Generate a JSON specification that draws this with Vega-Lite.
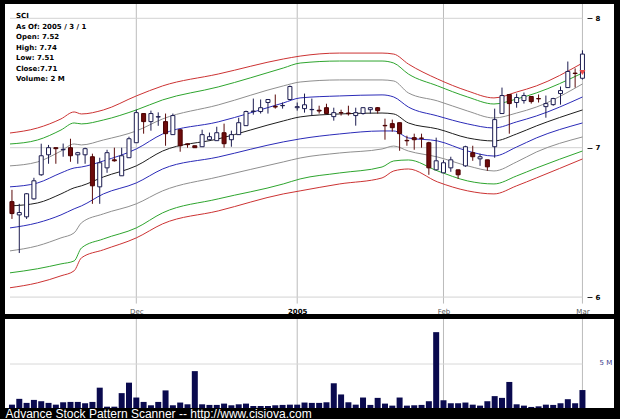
{
  "$schema": "https://vega.github.io/schema/vega-lite/v6.json",
  "background": "black",
  "padding": {"left": 5, "top": 3, "right": 6, "bottom": 0},
  "bounds": "flush",
  "spacing": 5,
  "config": {
    "view": {"fill": "white", "stroke": null},
    "axis": {"grid": false, "domain": false, "ticks": false, "labelFont": "DejaVu Sans", "labelFontSize": 7}
  },
  "datasets": {
    "ohlc": [
      {"i":0,"d":"2004-11-05","o":6.621,"h":6.702,"l":6.504,"c":6.540,"v":0.38},
      {"i":1,"d":"2004-11-08","o":6.531,"h":6.606,"l":6.279,"c":6.547,"v":1.04},
      {"i":2,"d":"2004-11-09","o":6.518,"h":6.680,"l":6.504,"c":6.675,"v":0.58},
      {"i":3,"d":"2004-11-10","o":6.640,"h":6.786,"l":6.635,"c":6.765,"v":0.92},
      {"i":4,"d":"2004-11-11","o":6.807,"h":7.029,"l":6.800,"c":6.942,"v":0.77},
      {"i":5,"d":"2004-11-12","o":6.949,"h":7.020,"l":6.885,"c":7.000,"v":0.58},
      {"i":6,"d":"2004-11-15","o":7.000,"h":7.000,"l":6.885,"c":6.993,"v":0.38},
      {"i":7,"d":"2004-11-16","o":6.985,"h":7.030,"l":6.935,"c":6.988,"v":0.65},
      {"i":8,"d":"2004-11-17","o":7.000,"h":7.065,"l":6.899,"c":6.942,"v":0.69},
      {"i":9,"d":"2004-11-18","o":6.949,"h":6.970,"l":6.885,"c":6.964,"v":0.69},
      {"i":10,"d":"2004-11-19","o":6.949,"h":7.000,"l":6.885,"c":6.993,"v":0.54},
      {"i":11,"d":"2004-11-22","o":6.935,"h":6.957,"l":6.606,"c":6.730,"v":0.69},
      {"i":12,"d":"2004-11-23","o":6.723,"h":6.928,"l":6.606,"c":6.892,"v":2.31},
      {"i":13,"d":"2004-11-24","o":6.856,"h":6.985,"l":6.821,"c":6.964,"v":0.15},
      {"i":14,"d":"2004-11-26","o":6.913,"h":7.000,"l":6.900,"c":6.906,"v":0.15},
      {"i":15,"d":"2004-11-29","o":6.800,"h":7.000,"l":6.800,"c":6.942,"v":1.69},
      {"i":16,"d":"2004-11-30","o":6.928,"h":7.080,"l":6.928,"c":7.065,"v":2.88},
      {"i":17,"d":"2004-12-01","o":7.036,"h":7.281,"l":7.036,"c":7.258,"v":1.19},
      {"i":18,"d":"2004-12-02","o":7.251,"h":7.251,"l":7.102,"c":7.191,"v":0.69},
      {"i":19,"d":"2004-12-03","o":7.191,"h":7.273,"l":7.124,"c":7.251,"v":0.31},
      {"i":20,"d":"2004-12-06","o":7.225,"h":7.260,"l":7.160,"c":7.228,"v":0.69},
      {"i":21,"d":"2004-12-07","o":7.191,"h":7.251,"l":7.014,"c":7.102,"v":2.00},
      {"i":22,"d":"2004-12-08","o":7.095,"h":7.251,"l":7.095,"c":7.236,"v":0.31},
      {"i":23,"d":"2004-12-09","o":7.131,"h":7.131,"l":6.971,"c":7.014,"v":0.62},
      {"i":24,"d":"2004-12-10","o":7.028,"h":7.030,"l":7.000,"c":7.022,"v":0.42},
      {"i":25,"d":"2004-12-13","o":7.014,"h":7.014,"l":7.000,"c":7.000,"v":4.19},
      {"i":26,"d":"2004-12-14","o":7.007,"h":7.131,"l":7.007,"c":7.095,"v":0.42},
      {"i":27,"d":"2004-12-15","o":7.058,"h":7.110,"l":7.058,"c":7.080,"v":0.35},
      {"i":28,"d":"2004-12-16","o":7.051,"h":7.153,"l":7.051,"c":7.109,"v":0.35},
      {"i":29,"d":"2004-12-17","o":7.109,"h":7.176,"l":7.000,"c":7.029,"v":0.50},
      {"i":30,"d":"2004-12-20","o":7.058,"h":7.124,"l":7.007,"c":7.095,"v":0.31},
      {"i":31,"d":"2004-12-21","o":7.095,"h":7.220,"l":7.095,"c":7.183,"v":0.42},
      {"i":32,"d":"2004-12-22","o":7.161,"h":7.273,"l":7.161,"c":7.266,"v":0.50},
      {"i":33,"d":"2004-12-23","o":7.266,"h":7.364,"l":7.243,"c":7.270,"v":0.23},
      {"i":34,"d":"2004-12-27","o":7.266,"h":7.357,"l":7.251,"c":7.295,"v":0.23},
      {"i":35,"d":"2004-12-28","o":7.334,"h":7.360,"l":7.251,"c":7.357,"v":0.23},
      {"i":36,"d":"2004-12-29","o":7.305,"h":7.395,"l":7.288,"c":7.300,"v":0.31},
      {"i":37,"d":"2004-12-30","o":7.310,"h":7.334,"l":7.288,"c":7.312,"v":0.35},
      {"i":38,"d":"2004-12-31","o":7.357,"h":7.464,"l":7.357,"c":7.456,"v":0.38},
      {"i":39,"d":"2005-01-03","o":7.295,"h":7.334,"l":7.273,"c":7.303,"v":0.38},
      {"i":40,"d":"2005-01-04","o":7.288,"h":7.402,"l":7.258,"c":7.317,"v":0.62},
      {"i":41,"d":"2005-01-05","o":7.280,"h":7.364,"l":7.236,"c":7.282,"v":0.58},
      {"i":42,"d":"2005-01-06","o":7.276,"h":7.310,"l":7.251,"c":7.270,"v":0.58},
      {"i":43,"d":"2005-01-07","o":7.295,"h":7.325,"l":7.251,"c":7.251,"v":0.65},
      {"i":44,"d":"2005-01-10","o":7.228,"h":7.295,"l":7.198,"c":7.258,"v":2.81},
      {"i":45,"d":"2005-01-11","o":7.258,"h":7.280,"l":7.236,"c":7.256,"v":1.54},
      {"i":46,"d":"2005-01-12","o":7.255,"h":7.310,"l":7.236,"c":7.250,"v":0.65},
      {"i":47,"d":"2005-01-13","o":7.236,"h":7.295,"l":7.161,"c":7.258,"v":0.38},
      {"i":48,"d":"2005-01-14","o":7.251,"h":7.300,"l":7.243,"c":7.295,"v":1.19},
      {"i":49,"d":"2005-01-18","o":7.280,"h":7.300,"l":7.251,"c":7.295,"v":0.35},
      {"i":50,"d":"2005-01-19","o":7.295,"h":7.300,"l":7.251,"c":7.273,"v":1.15},
      {"i":51,"d":"2005-01-20","o":7.163,"h":7.213,"l":7.058,"c":7.160,"v":0.50},
      {"i":52,"d":"2005-01-21","o":7.176,"h":7.206,"l":7.117,"c":7.146,"v":0.27},
      {"i":53,"d":"2005-01-24","o":7.183,"h":7.183,"l":6.978,"c":7.102,"v":1.19},
      {"i":54,"d":"2005-01-25","o":7.053,"h":7.087,"l":7.014,"c":7.050,"v":0.27},
      {"i":55,"d":"2005-01-26","o":7.073,"h":7.102,"l":6.985,"c":7.058,"v":0.31},
      {"i":56,"d":"2005-01-27","o":7.070,"h":7.102,"l":7.000,"c":7.068,"v":0.35},
      {"i":57,"d":"2005-01-28","o":7.036,"h":7.043,"l":6.807,"c":6.856,"v":0.77},
      {"i":58,"d":"2005-01-31","o":6.842,"h":7.073,"l":6.842,"c":6.906,"v":8.62},
      {"i":59,"d":"2005-02-01","o":6.821,"h":6.910,"l":6.821,"c":6.892,"v":0.88},
      {"i":60,"d":"2005-02-02","o":6.856,"h":6.935,"l":6.828,"c":6.913,"v":0.54},
      {"i":61,"d":"2005-02-03","o":6.842,"h":6.842,"l":6.779,"c":6.807,"v":0.54},
      {"i":62,"d":"2005-02-04","o":6.870,"h":7.014,"l":6.863,"c":7.007,"v":0.62},
      {"i":63,"d":"2005-02-07","o":6.964,"h":7.014,"l":6.906,"c":6.935,"v":0.38},
      {"i":64,"d":"2005-02-08","o":6.920,"h":6.957,"l":6.870,"c":6.935,"v":0.27},
      {"i":65,"d":"2005-02-09","o":6.913,"h":6.913,"l":6.835,"c":6.863,"v":0.77},
      {"i":66,"d":"2005-02-10","o":7.007,"h":7.288,"l":6.928,"c":7.206,"v":1.35},
      {"i":67,"d":"2005-02-11","o":7.251,"h":7.448,"l":7.251,"c":7.387,"v":1.15},
      {"i":68,"d":"2005-02-14","o":7.395,"h":7.395,"l":7.102,"c":7.326,"v":2.96},
      {"i":69,"d":"2005-02-15","o":7.334,"h":7.402,"l":7.295,"c":7.372,"v":0.42},
      {"i":70,"d":"2005-02-16","o":7.349,"h":7.410,"l":7.326,"c":7.387,"v":0.27},
      {"i":71,"d":"2005-02-17","o":7.380,"h":7.380,"l":7.326,"c":7.341,"v":0.12},
      {"i":72,"d":"2005-02-18","o":7.364,"h":7.395,"l":7.334,"c":7.362,"v":0.19},
      {"i":73,"d":"2005-02-22","o":7.303,"h":7.387,"l":7.220,"c":7.326,"v":0.38},
      {"i":74,"d":"2005-02-23","o":7.318,"h":7.370,"l":7.310,"c":7.364,"v":0.35},
      {"i":75,"d":"2005-02-24","o":7.402,"h":7.456,"l":7.318,"c":7.425,"v":0.54},
      {"i":76,"d":"2005-02-25","o":7.448,"h":7.651,"l":7.448,"c":7.573,"v":1.00},
      {"i":77,"d":"2005-02-28","o":7.560,"h":7.597,"l":7.448,"c":7.557,"v":0.54},
      {"i":78,"d":"2005-03-01","o":7.52,"h":7.74,"l":7.51,"c":7.71,"v":2.04}
    ],
    "bands": [
      {"i":-0.27,"r1":7.107,"g1":7.027,"y1":6.870,"b1":6.723,"m":6.592,"b2":6.444,"y2":6.293,"g2":6.152,"r2":6.058},
      {"i":3.5,"r1":7.144,"g1":7.056,"y1":6.898,"b1":6.750,"m":6.612,"b2":6.478,"y2":6.326,"g2":6.178,"r2":6.089},
      {"i":6.7,"r1":7.211,"g1":7.129,"y1":6.976,"b1":6.820,"m":6.674,"b2":6.531,"y2":6.378,"g2":6.209,"r2":6.133},
      {"i":8.5,"r1":7.263,"g1":7.181,"y1":7.027,"b1":6.855,"m":6.716,"b2":6.572,"y2":6.411,"g2":6.228,"r2":6.165},
      {"i":9.5,"r1":7.248,"g1":7.174,"y1":7.020,"b1":6.862,"m":6.730,"b2":6.592,"y2":6.478,"g2":6.312,"r2":6.248},
      {"i":12.5,"r1":7.278,"g1":7.203,"y1":7.056,"b1":6.905,"m":6.792,"b2":6.674,"y2":6.538,"g2":6.371,"r2":6.300},
      {"i":17,"r1":7.384,"g1":7.278,"y1":7.122,"b1":6.991,"m":6.870,"b2":6.750,"y2":6.606,"g2":6.444,"r2":6.378},
      {"i":20.6,"r1":7.461,"g1":7.354,"y1":7.211,"b1":7.100,"m":6.976,"b2":6.848,"y2":6.695,"g2":6.545,"r2":6.471},
      {"i":28.2,"r1":7.553,"g1":7.453,"y1":7.316,"b1":7.189,"m":7.064,"b2":6.933,"y2":6.792,"g2":6.640,"r2":6.558},
      {"i":37.1,"r1":7.671,"g1":7.600,"y1":7.461,"b1":7.331,"m":7.196,"b2":7.042,"y2":6.898,"g2":6.743,"r2":6.674},
      {"i":39.4,"r1":7.694,"g1":7.639,"y1":7.491,"b1":7.369,"m":7.226,"b2":7.064,"y2":6.926,"g2":6.778,"r2":6.695},
      {"i":44.8,"r1":7.718,"g1":7.655,"y1":7.507,"b1":7.384,"m":7.248,"b2":7.100,"y2":6.962,"g2":6.820,"r2":6.743},
      {"i":50.6,"r1":7.718,"g1":7.655,"y1":7.507,"b1":7.392,"m":7.255,"b2":7.122,"y2":6.991,"g2":6.862,"r2":6.785},
      {"i":52.2,"r1":7.710,"g1":7.639,"y1":7.499,"b1":7.376,"m":7.248,"b2":7.122,"y2":7.012,"g2":6.905,"r2":6.834},
      {"i":54.2,"r1":7.631,"g1":7.553,"y1":7.407,"b1":7.300,"m":7.181,"b2":7.071,"y2":6.976,"g2":6.912,"r2":6.848},
      {"i":58.2,"r1":7.514,"g1":7.461,"y1":7.346,"b1":7.233,"m":7.137,"b2":7.049,"y2":6.933,"g2":6.834,"r2":6.757},
      {"i":62.3,"r1":7.422,"g1":7.376,"y1":7.270,"b1":7.174,"m":7.071,"b2":6.976,"y2":6.870,"g2":6.764,"r2":6.695},
      {"i":65.9,"r1":7.369,"g1":7.323,"y1":7.218,"b1":7.144,"m":7.049,"b2":6.940,"y2":6.834,"g2":6.743,"r2":6.674},
      {"i":69,"r1":7.414,"g1":7.361,"y1":7.255,"b1":7.189,"m":7.100,"b2":7.005,"y2":6.898,"g2":6.799,"r2":6.730},
      {"i":71.7,"r1":7.461,"g1":7.407,"y1":7.300,"b1":7.233,"m":7.159,"b2":7.071,"y2":6.969,"g2":6.855,"r2":6.785},
      {"i":78,"r1":7.639,"g1":7.561,"y1":7.476,"b1":7.376,"m":7.278,"b2":7.181,"y2":7.078,"g2":6.976,"r2":6.919}
    ],
    "months": [{"i":17,"t":"Dec"},{"i":39,"t":"2005"},{"i":59,"t":"Feb"},{"i":78,"t":"Mar"}],
    "priceTicks": [{"p":6},{"p":7},{"p":8}],
    "volTicks": [{"v":5}],
    "signal": [{"i":78,"p":7.565}],
    "info": [{"t":"SCI\nAs Of: 2005 / 3 / 1\nOpen: 7.52\nHigh: 7.74\nLow: 7.51\nClose:7.71\nVolume: 2 M"}]
  },
  "vconcat": [
    {
      "width": 609,
      "height": 310,
      "layer": [
        {
          "data": {"name": "months"},
          "mark": {"type": "rule", "color": "#bcbcbc", "strokeWidth": 1},
          "encoding": {
            "x": {"field": "i", "type": "quantitative", "title": null,
              "scale": {"domain": [-0.269, 81.63], "nice": false, "zero": false},
              "axis": {"values": [17, 39, 59, 78], "offset": -17, "labelPadding": 10, "labelOverlap": false, "labelFlush": false,
                "labelExpr": "datum.value == 17 ? 'Dec' : datum.value == 39 ? '2005' : datum.value == 59 ? 'Feb' : 'Mar'",
                "labelColor": {"condition": {"test": "datum.value == 39", "value": "black"}, "value": "#555555"},
                "labelFontWeight": {"condition": {"test": "datum.value == 39", "value": "bold"}, "value": "normal"}}},
            "y": {"datum": 5.96, "type": "quantitative", "scale": {"type": "log", "domain": [5.8962, 8.1189], "nice": false, "zero": false}},
            "y2": {"datum": 8.1189}
          }
        },
        {
          "data": {"name": "priceTicks"},
          "mark": {"type": "rule", "color": "#d2d2d2", "strokeWidth": 1},
          "encoding": {
            "y": {"field": "p", "type": "quantitative", "title": null,
              "axis": {"orient": "right", "values": [6, 7, 8], "offset": -27, "ticks": true, "tickSize": 5, "tickColor": "#222222",
                "labelPadding": 3, "labelFontWeight": "bold", "labelColor": "black", "labelFlush": false, "labelBaseline": "middle"}},
            "x": {"datum": -0.269, "type": "quantitative"},
            "x2": {"datum": 78}
          }
        },
        {
          "data": {"name": "bands"},
          "transform": [{"fold": ["r1","g1","y1","b1","m","b2","y2","g2","r2"], "as": ["band","val"]}],
          "mark": {"type": "line", "strokeWidth": 1, "interpolate": "monotone"},
          "encoding": {
            "x": {"field": "i", "type": "quantitative", "title": null},
            "y": {"field": "val", "type": "quantitative", "title": null},
            "color": {"field": "band", "type": "nominal", "legend": null,
              "scale": {"domain": ["r1","g1","y1","b1","m","b2","y2","g2","r2"],
                "range": ["#cc3333","#2ea52e","#8f8f8f","#2b2bb8","#1e1e1e","#2b2bb8","#8f8f8f","#2ea52e","#cc3333"]}}
          }
        },
        {
          "data": {"name": "ohlc"},
          "mark": {"type": "rule", "strokeWidth": 1},
          "encoding": {
            "x": {"field": "i", "type": "quantitative", "title": null},
            "y": {"field": "l", "type": "quantitative", "title": null},
            "y2": {"field": "h"},
            "stroke": {"condition": {"test": "datum.c >= datum.o", "value": "#1c1c50"}, "value": "#5a0a0a"}
          }
        },
        {
          "data": {"name": "ohlc"},
          "mark": {"type": "bar", "size": 4, "strokeWidth": 1},
          "encoding": {
            "x": {"field": "i", "type": "quantitative", "title": null},
            "y": {"field": "o", "type": "quantitative", "title": null},
            "y2": {"field": "c"},
            "fill": {"condition": {"test": "datum.c >= datum.o", "value": "white"}, "value": "#6e0b0b"},
            "stroke": {"condition": {"test": "datum.c >= datum.o", "value": "#1c1c50"}, "value": "#4a0000"}
          }
        },
        {
          "data": {"name": "signal"},
          "mark": {"type": "point", "shape": "triangle-down", "filled": true, "color": "#e84a4a", "size": 36, "opacity": 1},
          "encoding": {
            "x": {"field": "i", "type": "quantitative", "title": null},
            "y": {"field": "p", "type": "quantitative", "title": null}
          }
        },
        {
          "data": {"name": "info"},
          "mark": {"type": "text", "lineBreak": "\n", "baseline": "top", "align": "left", "dx": 6, "dy": 8, "lineHeight": 10.5,
            "font": "DejaVu Sans", "fontSize": 7, "fontWeight": "bold", "color": "black"},
          "encoding": {
            "text": {"field": "t"},
            "x": {"datum": -0.269, "type": "quantitative"},
            "y": {"datum": 8.1189, "type": "quantitative"}
          }
        }
      ]
    },
    {
      "width": 609,
      "height": 89,
      "layer": [
        {
          "data": {"name": "months"},
          "mark": {"type": "rule", "color": "#bcbcbc", "strokeWidth": 1},
          "encoding": {
            "x": {"field": "i", "type": "quantitative",
              "scale": {"domain": [-0.269, 81.63], "nice": false, "zero": false},
              "title": "Advance Stock Pattern Scanner -- http://www.cisiova.com",
              "axis": {"labels": false, "ticks": false, "domain": false, "titleColor": "white", "titleFont": "Liberation Sans",
                "titleFontSize": 12, "titleFontWeight": "normal", "titleAnchor": "start", "titleAlign": "left", "titlePadding": 0}}
          }
        },
        {
          "data": {"name": "volTicks"},
          "mark": {"type": "rule", "color": "#d8d8d8", "strokeWidth": 1},
          "encoding": {
            "y": {"field": "v", "type": "quantitative", "title": null,
              "scale": {"domain": [0, 10.114], "nice": false, "zero": false},
              "axis": {"orient": "right", "values": [5], "offset": -27, "labelPadding": 12, "labelExpr": "'5 M'",
                "labelColor": "#3a3a8c", "labelBaseline": "alphabetic", "labelFlush": false}},
            "x": {"datum": -0.269, "type": "quantitative"},
            "x2": {"datum": 78}
          }
        },
        {
          "data": {"name": "ohlc"},
          "mark": {"type": "bar", "size": 6, "color": "#0a0a4e"},
          "encoding": {
            "x": {"field": "i", "type": "quantitative"},
            "y": {"field": "v", "type": "quantitative", "title": null}
          }
        },
        {
          "mark": {"type": "rule", "color": "#2b2bb0", "strokeWidth": 2},
          "encoding": {"y": {"datum": 10.114, "type": "quantitative"}}
        }
      ]
    }
  ]
}
